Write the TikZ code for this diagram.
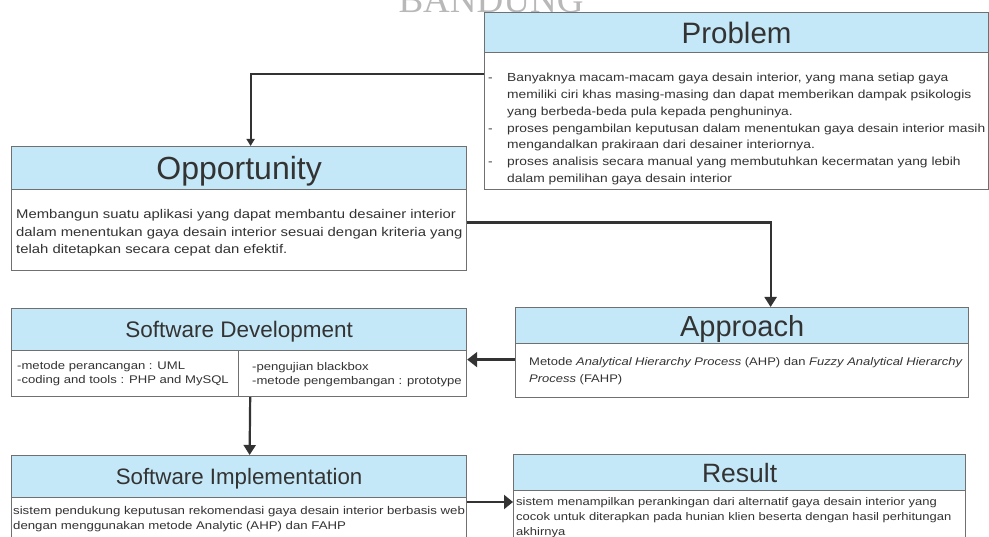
\documentclass[tikz,border=0pt]{standalone}
\usepackage{fontspec}
\setmainfont{Liberation Sans}
\newfontfamily\bodyfont[FakeStretch=1.18]{Liberation Sans}
\newfontfamily\markfont{Liberation Serif}
\usetikzlibrary{arrows.meta}
\definecolor{headblue}{HTML}{C5E8F8}
\definecolor{boxline}{HTML}{707070}
\definecolor{ink}{HTML}{333333}
\newcommand{\pitem}{\makebox[19pt][l]{-}}
\newcommand{\pind}{\hspace*{19pt}}

\begin{document}
\begin{tikzpicture}[x=1pt, y=-1pt,
    headbox/.style={draw=boxline, line width=1.2pt, fill=headblue, text=ink, anchor=north west, inner sep=0pt, text depth=0pt},
    bodybox/.style={draw=boxline, line width=1.2pt, fill=white, anchor=north west, inner sep=0pt},
    bodytext/.style={anchor=north west, inner sep=0pt, align=left, text=ink},
    link/.style={draw=ink, line width=2.2pt, -{Triangle[length=10pt,width=12pt]}}]
    \fill[white] (0,0) rectangle (989,537);
    \useasboundingbox (0,0) rectangle (989,537);
    \node[anchor=base west, text=black!28, font=\markfont\fontsize{37}{37}\selectfont] (mark) at (395,13) {BANDUNG};

    \node[headbox, minimum width=504pt, minimum height=40pt, font=\fontsize{29.5}{30}\selectfont] (probhead) at (484,12) {Problem};
    \node[bodybox, minimum width=504pt, minimum height=137pt] (probbody) at (484,52) {};
    \node[bodytext, font=\bodyfont\fontsize{11.7}{16.8}\selectfont] (probtext) at (488,73) {\pitem Banyaknya macam-macam gaya desain interior, yang mana setiap gaya\\
        \pind memiliki ciri khas masing-masing dan dapat memberikan dampak psikologis\\
        \pind yang berbeda-beda pula kepada penghuninya.\\
        \pitem proses pengambilan keputusan dalam menentukan gaya desain interior masih\\
        \pind mengandalkan prakiraan dari desainer interiornya.\\
        \pitem proses analisis secara manual yang membutuhkan kecermatan yang lebih\\
        \pind dalam pemilihan gaya desain interior};

    \node[headbox, minimum width=455pt, minimum height=43pt, font=\fontsize{32}{33}\selectfont] (opphead) at (11,146) {Opportunity};
    \node[bodybox, minimum width=455pt, minimum height=81pt] (oppbody) at (11,189) {};
    \node[bodytext, font=\bodyfont\fontsize{12.6}{17.7}\selectfont] (opptext) at (16,209) {Membangun suatu aplikasi yang dapat membantu desainer interior\\
        dalam menentukan gaya desain interior sesuai dengan kriteria yang\\
        telah ditetapkan secara cepat dan efektif.};

    \node[headbox, minimum width=455pt, minimum height=42pt, font=\fontsize{22.5}{23}\selectfont] (sdhead) at (11,308) {Software Development};
    \node[bodybox, minimum width=227pt, minimum height=46pt] (sdleft) at (11,350) {};
    \node[bodybox, minimum width=228pt, minimum height=46pt] (sdright) at (238,350) {};
    \node[bodytext, font=\bodyfont\fontsize{11.1}{14.3}\selectfont] (sdltext) at (17,361) {-metode perancangan : UML\\-coding and tools : PHP and MySQL};
    \node[bodytext, font=\bodyfont\fontsize{11.1}{14.3}\selectfont] (sdrtext) at (252,362) {-pengujian blackbox\\-metode pengembangan : prototype};

    \node[headbox, minimum width=453pt, minimum height=36pt, font=\fontsize{29}{30}\selectfont] (apphead) at (515,307) {Approach};
    \node[bodybox, minimum width=453pt, minimum height=54pt] (appbody) at (515,343) {};
    \node[bodytext, font=\bodyfont\fontsize{11}{17.3}\selectfont] (apptext) at (529,357) {Metode \textit{Analytical Hierarchy Process} (AHP) dan \textit{Fuzzy Analytical Hierarchy}\\
        \textit{Process} (FAHP)};

    \node[headbox, minimum width=455pt, minimum height=42pt, font=\fontsize{22.3}{23}\selectfont] (sihead) at (11,455) {Software Implementation};
    \node[bodybox, minimum width=455pt, minimum height=60pt] (sibody) at (11,497) {};
    \node[bodytext, font=\bodyfont\fontsize{11.2}{15}\selectfont] (sitext) at (13,506) {sistem pendukung keputusan rekomendasi gaya desain interior berbasis web\\
        dengan menggunakan metode Analytic (AHP) dan FAHP};

    \node[headbox, minimum width=452pt, minimum height=36pt, font=\fontsize{26.5}{27}\selectfont] (reshead) at (513,454) {Result};
    \node[bodybox, minimum width=452pt, minimum height=70pt] (resbody) at (513,490) {};
    \node[bodytext, font=\bodyfont\fontsize{11}{15.2}\selectfont] (restext) at (516,497) {sistem menampilkan perankingan dari alternatif gaya desain interior yang\\
        cocok untuk diterapkan pada hunian klien beserta dengan hasil perhitungan\\
        akhirnya};

    \draw[link, -{Triangle[length=7pt,width=8pt]}] ([yshift=-22pt]probbody.north west) -| ([xshift=11.5pt]opphead.north);
    \draw[link] ([yshift=7.5pt]oppbody.east) -| ([xshift=28.5pt]apphead.north);
    \draw[link, -{Triangle[length=10pt,width=15pt]}] ([yshift=11pt]appbody.west) -- ([yshift=14pt]sdright.east);
    \draw[link] ([xshift=11pt]sdleft.south east) -- ([xshift=10.5pt]sihead.north);
    \draw[link, -{Triangle[length=9pt,width=14pt]}] ([yshift=-5pt]sibody.north east) -- ([yshift=-12pt]resbody.north west);
\end{tikzpicture}
\end{document}
